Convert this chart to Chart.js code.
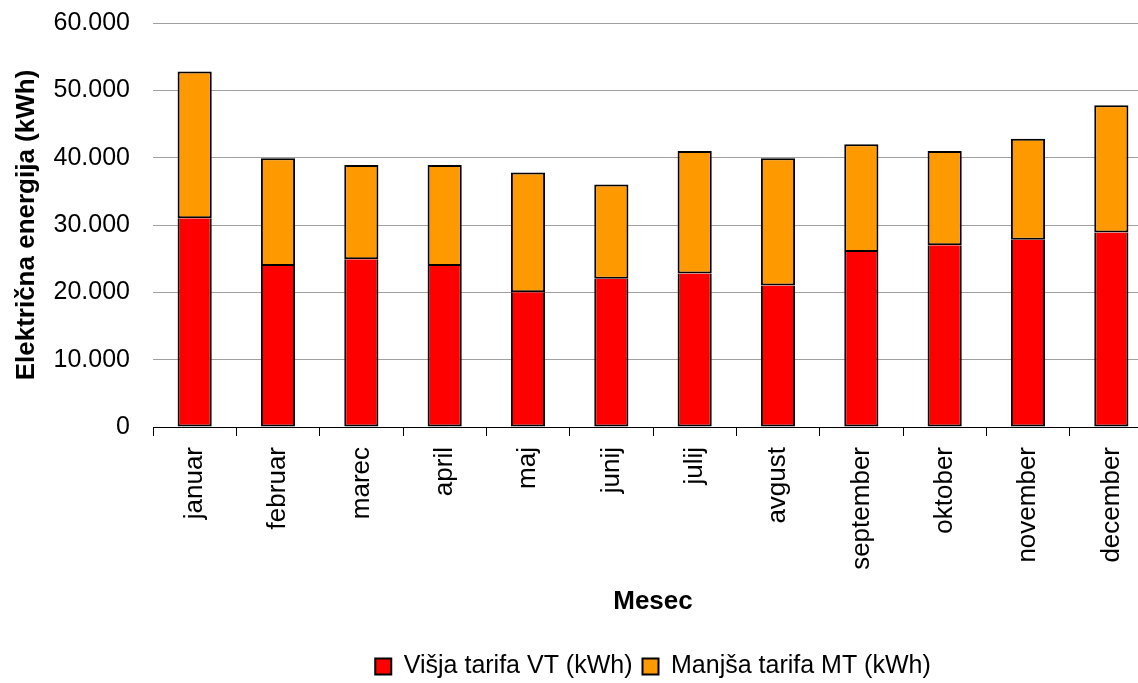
<!DOCTYPE html>
<html>
<head>
<meta charset="utf-8">
<script src="https://cdn.jsdelivr.net/npm/chart.js@4"></script>
<style>
  html, body { margin: 0; padding: 0; background: #fff; overflow: hidden; }
  #wrap { position: relative; width: 1155px; height: 689px; }
</style>
</head>
<body>
<div id="wrap"><canvas id="c"></canvas></div>
<script>
const months = ['januar','februar','marec','april','maj','junij','julij','avgust','september','oktober','november','december'];
const vtValues = [31000, 23900, 24900, 23900, 20000, 22000, 22800, 21000, 26000, 27000, 27800, 28900];
const mtValues = [21800, 16000, 14000, 15000, 17800, 14000, 18200, 18900, 16000, 14000, 15000, 18900];
const vtLabel = 'Višja tarifa VT (kWh)';
const mtLabel = 'Manjša tarifa MT (kWh)';
const yTitle = 'Električna energija (kWh)';
const xTitle = 'Mesec';
const yMin = 0, yMax = 60000, yStep = 10000;

function fmt(v) {
  return String(Math.round(v)).replace(/\B(?=(\d{3})+(?!\d))/g, '.');
}

Chart.defaults.font.family = "'Liberation Sans', Arial, sans-serif";
Chart.defaults.color = '#000';

const legendToArea = {
  id: 'legendToArea',
  afterLayout(chart) {
    const lg = chart.legend, ca = chart.chartArea;
    if (lg && ca) { lg.left = ca.left; lg.right = ca.right; lg.width = ca.right - ca.left; }
  }
};

new Chart(document.getElementById('c'), {
  type: 'bar',
  data: {
    labels: months,
    datasets: [
      { label: vtLabel, data: vtValues, backgroundColor: '#FF0000', borderColor: '#000', borderWidth: 2, borderSkipped: 'top' },
      { label: mtLabel, data: mtValues, backgroundColor: '#FF9900', borderColor: '#000', borderWidth: 2, borderSkipped: false }
    ]
  },
  options: {
    responsive: true,
    maintainAspectRatio: false,
    animation: false,
    layout: { padding: { top: 23, right: 2, left: 0, bottom: 0 } },
    datasets: { bar: { categoryPercentage: 1, barPercentage: 0.41 } },
    plugins: {
      legend: {
        position: 'bottom',
        labels: { boxWidth: 16, boxHeight: 16, padding: 10, font: { size: 25 }, color: '#000' }
      },
      tooltip: { enabled: false }
    },
    scales: {
      x: {
        stacked: true,
        afterFit(s) { s.height = 217; s.paddingLeft = 0; s.paddingRight = 0; },
        grid: { display: true, offset: true, drawOnChartArea: false, color: '#000', tickLength: 9 },
        border: { color: '#000', width: 1 },
        ticks: { minRotation: 90, maxRotation: 90, padding: 11, font: { size: 26 }, color: '#000', autoSkip: false },
        title: { display: true, text: xTitle, font: { size: 26, weight: 'bold' }, color: '#000', padding: { top: 0, bottom: 27 } }
      },
      y: {
        stacked: true,
        min: yMin, max: yMax,
        afterFit(s) { s.width = 153; s.paddingTop = 0; s.paddingBottom = 0; },
        ticks: { stepSize: yStep, padding: 23, font: { size: 25 }, color: '#000', callback: v => fmt(v) },
        grid: { color: '#a0a0a0', drawTicks: false },
        border: { display: false },
        title: { display: true, text: yTitle, font: { size: 26, weight: 'bold' }, color: '#000', padding: { top: 11, bottom: 11 } }
      }
    }
  },
  plugins: [legendToArea]
});
</script>
</body>
</html>
